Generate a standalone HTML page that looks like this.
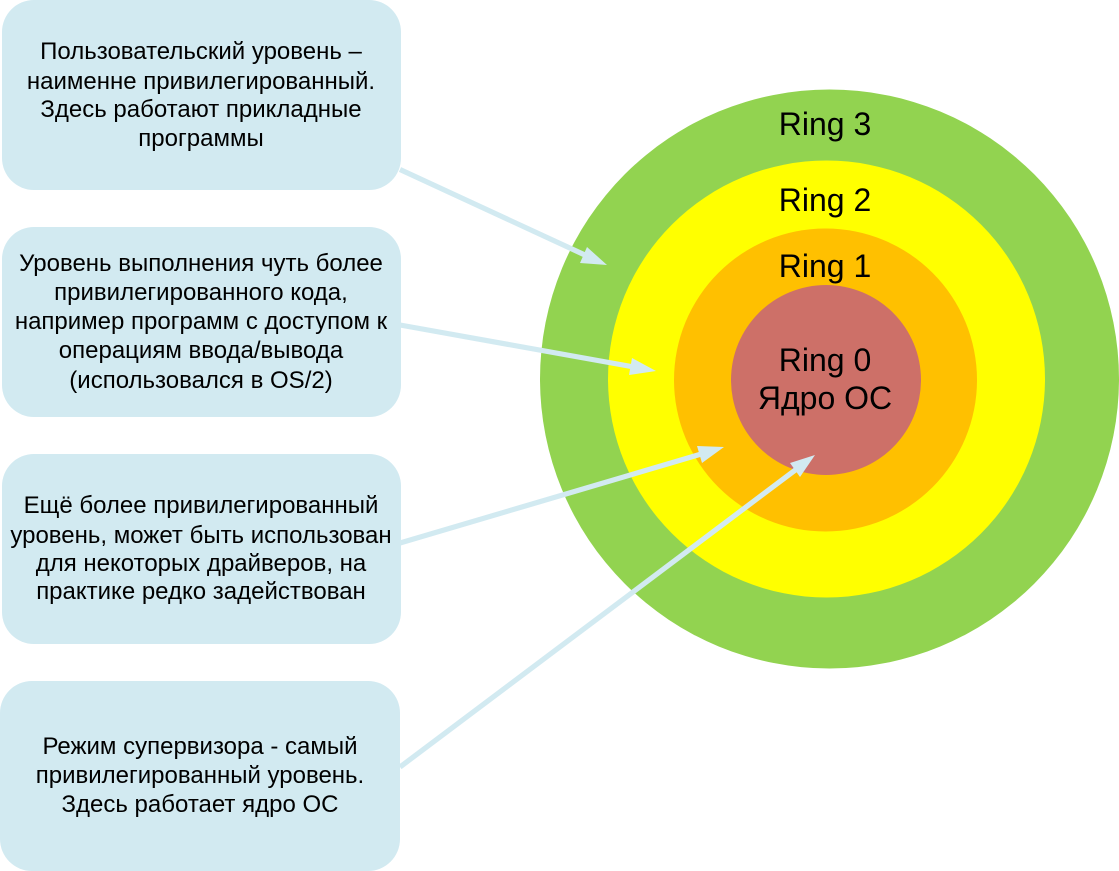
<!DOCTYPE html>
<html lang="ru">
<head>
<meta charset="utf-8">
<style>
html,body{margin:0;padding:0;background:#fff}
body{width:1119px;height:871px;overflow:hidden;position:relative}
svg{position:absolute;left:0;top:0}
text{font-family:"Liberation Sans","DejaVu Sans",sans-serif;fill:#000;text-anchor:middle}
.t{font-size:24px}
.r{font-size:32px}
</style>
</head>
<body>
<svg width="1119" height="871" viewBox="0 0 1119 871" xmlns="http://www.w3.org/2000/svg">
<circle cx="829.5" cy="379" r="289.5" fill="#92d350"/>
<circle cx="826.5" cy="379" r="218.5" fill="#ffff00"/>
<circle cx="825.5" cy="380" r="151.5" fill="#ffc000"/>
<circle cx="826" cy="380" r="95" fill="#cd7068"/>

<rect x="2" y="0" width="399" height="190" rx="32" fill="#d2eaf1"/>
<rect x="2" y="227" width="399" height="190" rx="32" fill="#d2eaf1"/>
<rect x="2" y="454" width="399" height="190" rx="32" fill="#d2eaf1"/>
<rect x="0" y="681" width="400" height="190" rx="32" fill="#d2eaf1"/>

<g stroke="#d2eaf1" stroke-width="5.2" fill="none">
<line x1="400" y1="169.5" x2="586" y2="255.5"/>
<line x1="400" y1="325" x2="634" y2="367"/>
<line x1="400" y1="543" x2="703" y2="453.5"/>
<line x1="400" y1="767" x2="798" y2="468"/>
</g>
<g fill="#d2eaf1" stroke="none">
<polygon points="607,265 587,247 580,263"/>
<polygon points="656,371 632,358 629,375"/>
<polygon points="724,447 697,446 702,463"/>
<polygon points="815,455 790,463 800,477"/>
</g>

<text class="r" x="825" y="135">Ring 3</text>
<text class="r" x="825" y="211">Ring 2</text>
<text class="r" x="825" y="277">Ring 1</text>
<text class="r" x="825" y="371">Ring 0</text>
<text class="r" x="825" y="409">Ядро ОС</text>

<text class="t" x="201" y="59">Пользовательский уровень –</text>
<text class="t" x="201" y="89">наименне привилегированный.</text>
<text class="t" x="201" y="117">Здесь работают прикладные</text>
<text class="t" x="201" y="146">программы</text>

<text class="t" x="201" y="271">Уровень выполнения чуть более</text>
<text class="t" x="201" y="300">привилегированного кода,</text>
<text class="t" x="201" y="329">например программ с доступом к</text>
<text class="t" x="201" y="358">операциям ввода/вывода</text>
<text class="t" x="201" y="388">(использовался в OS/2)</text>

<text class="t" x="201" y="513">Ещё более привилегированный</text>
<text class="t" x="201" y="543">уровень, может быть использован</text>
<text class="t" x="201" y="571">для некоторых драйверов, на</text>
<text class="t" x="201" y="599">практике редко задействован</text>

<text class="t" x="200" y="754">Режим супервизора - самый</text>
<text class="t" x="200" y="783">привилегированный уровень.</text>
<text class="t" x="200" y="812">Здесь работает ядро ОС</text>
</svg>
</body>
</html>
